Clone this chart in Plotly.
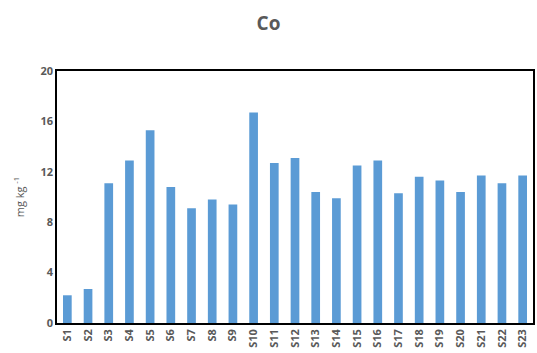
import plotly.graph_objects as go

categories = [f"S{i}" for i in range(1, 24)]
values = [2.2, 2.7, 11.1, 12.9, 15.3, 10.8, 9.1, 9.8, 9.4, 16.7, 12.7, 13.1,
          10.4, 9.9, 12.5, 12.9, 10.3, 11.6, 11.3, 10.4, 11.7, 11.1, 11.7]
y_ticks = [0, 4, 8, 12, 16, 20]

fig = go.Figure(go.Bar(x=categories, y=values, marker=dict(color="#5B9BD5", line=dict(width=0))))

fig.update_layout(
    width=537, height=353,
    margin=dict(l=57, r=2, t=71, b=30),
    paper_bgcolor="white", plot_bgcolor="white",
    bargap=0.58,
    showlegend=False,
    title=dict(text="<b>Co</b>", x=0.5, xanchor="center", y=0.935, yanchor="middle",
               font=dict(family="Open Sans", size=19, color="#595959")),
    font=dict(family="Open Sans", color="#595959"),
)
fig.update_xaxes(
    showline=True, linecolor="black", linewidth=1.5, mirror=True,
    showgrid=False, ticks="", tickangle=-90,
    tickfont=dict(family="Open Sans", size=11, color="#595959", weight="bold"),
)
fig.update_yaxes(
    range=[0, 20], tickvals=y_ticks,
    showline=True, linecolor="black", linewidth=1.5, mirror=True,
    showgrid=False, ticks="", zeroline=False,
    tickfont=dict(family="Open Sans", size=11, color="#595959", weight="bold"),
    title=dict(text="mg kg <sup>-1</sup>", standoff=14,
               font=dict(family="Open Sans", size=11, color="#595959")),
)

fig.write_html("out.html", config={"displayModeBar": False},
               post_script="document.body.style.margin='0';document.body.style.overflow='hidden';")
